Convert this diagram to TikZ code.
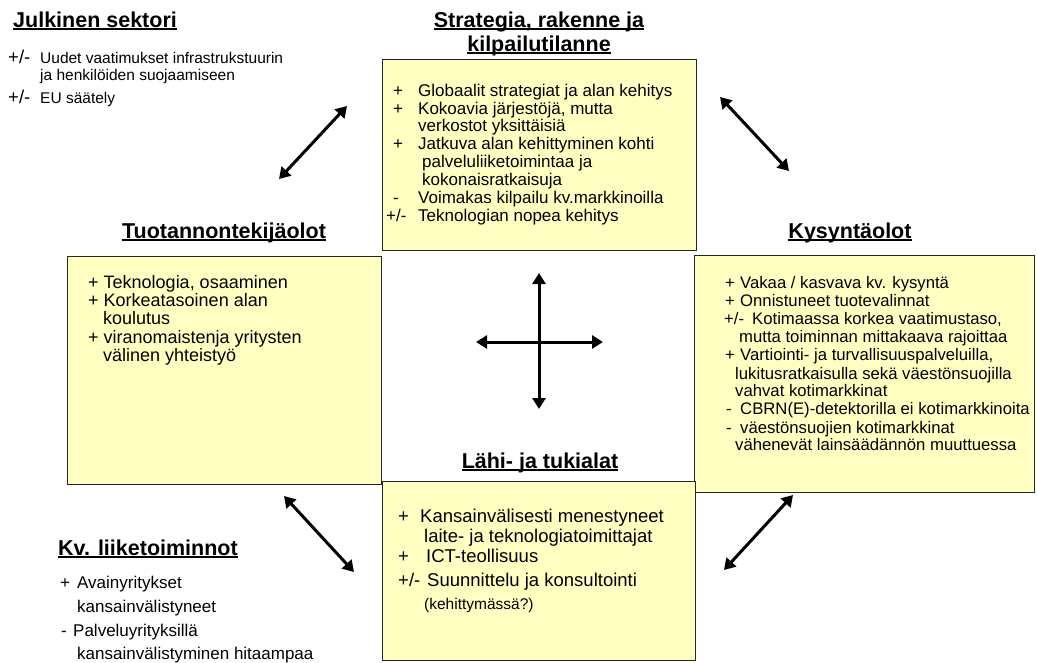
\documentclass[tikz,border=0pt]{standalone}
\usepackage{fontspec}
\setmainfont{Liberation Sans}
\usetikzlibrary{arrows.meta}
\definecolor{boxfill}{RGB}{255,255,194}
% heading underline: a solid bar under the heading text
\newcommand\hdul[1]{\setbox0=\hbox{#1}\rlap{\rule[-2.8pt]{\wd0}{1.7pt}}\box0}
\tikzset{
  panel/.style={draw=black!85, line width=1pt, fill=boxfill, inner sep=0, anchor=north west},
  ttl/.style={font=\fontsize{21.5}{24}\selectfont\bfseries, inner sep=0, anchor=base},
  ttlw/.style={ttl, anchor=base west},
  strattxt/.style={font=\fontsize{17}{20}\selectfont, inner sep=0, anchor=base west},
  facttxt/.style={font=\fontsize{18}{21}\selectfont, inner sep=0, anchor=base west},
  demtxt/.style={font=\fontsize{16.7}{20}\selectfont, inner sep=0, anchor=base west},
  reltxt/.style={font=\fontsize{18.5}{22}\selectfont, inner sep=0, anchor=base west},
  pubtxt/.style={font=\fontsize{15.5}{18}\selectfont, inner sep=0, anchor=base west},
  inttxt/.style={font=\fontsize{17}{20}\selectfont, inner sep=0, anchor=base west},
  notetxt/.style={font=\fontsize{15.5}{18}\selectfont, inner sep=0, anchor=base west},
  pmtxt/.style={font=\fontsize{18.5}{21}\selectfont, inner sep=0, anchor=base west},
  link/.style={line width=3pt, {Triangle[length=11pt,width=13pt]}-{Triangle[length=11pt,width=13pt]}},
}
\begin{document}
\begin{tikzpicture}[x=1pt,y=-1pt]
\useasboundingbox (0,0) rectangle (1037,662);

% the four panels round the central square
\node[panel, minimum width=314, minimum height=228] (fact) at (67,256) {};
\node[panel, minimum width=314, minimum height=191] (strat) at (382,59) {};
\node[panel, minimum width=340, minimum height=237] (dem) at (694,255) {};
\node[panel, minimum width=313, minimum height=179] (rel) at (382,481) {};

% public sector (top left)
\node[ttlw] (pubT) at (13,27) {\hdul{Julkinen sektori}};
\node[pmtxt] (pubP1) at (8,63) {+/-};
\node[pubtxt] (pub1) at (40,63) {Uudet vaatimukset infrastrukstuurin};
\node[pubtxt] (pub2) at (40,80) {ja henkilöiden suojaamiseen};
\node[pmtxt] (pubP2) at (8,103) {+/-};
\node[pubtxt] (pub3) at (40,103) {EU säätely};

% strategy panel
\node[ttl] (stratT1) at (539,27) {\hdul{Strategia, rakenne ja}};
\node[ttl] (stratT2) at (539,51) {\hdul{kilpailutilanne}};
\node[strattxt] (sM1) at (393,96) {+};
\node[strattxt] (s1) at (418,96) {Globaalit strategiat ja alan kehitys};
\node[strattxt] (sM2) at (393,114) {+};
\node[strattxt] (s2) at (418,114) {Kokoavia järjestöjä, mutta};
\node[strattxt] (s3) at (418,131) {verkostot yksittäisiä};
\node[strattxt] (sM4) at (393,149) {+};
\node[strattxt] (s4) at (418,149) {Jatkuva alan kehittyminen kohti};
\node[strattxt] (s5) at (422,167) {palveluliiketoimintaa ja};
\node[strattxt] (s6) at (422,185) {kokonaisratkaisuja};
\node[strattxt] (sM7) at (393,203) {-};
\node[strattxt] (s7) at (418,203) {Voimakas kilpailu kv.markkinoilla};
\node[strattxt] (sM8) at (386,221) {+/-};
\node[strattxt] (s8) at (418,221) {Teknologian nopea kehitys};

% factor conditions panel
\node[ttl] (factT) at (224,238) {\hdul{Tuotannontekijäolot}};
\node[facttxt] (f1) at (88,288) {+ Teknologia, osaaminen};
\node[facttxt] (f2) at (88,306) {+ Korkeatasoinen alan};
\node[facttxt] (f3) at (103,324) {koulutus};
\node[facttxt] (f4) at (88,343) {+ viranomaistenja yritysten};
\node[facttxt] (f5) at (103,361) {välinen yhteistyö};

% demand conditions panel
\node[ttl] (demT) at (850,238) {\hdul{Kysyntäolot}};
\node[demtxt] (dM1) at (725,288) {+};
\node[demtxt] (d1) at (740,288) {Vakaa / kasvava kv. kysyntä};
\node[demtxt] (dM2) at (725,306) {+};
\node[demtxt] (d2) at (740,306) {Onnistuneet tuotevalinnat};
\node[demtxt] (dM3) at (724,324) {+/-};
\node[demtxt] (d3) at (752,324) {Kotimaassa korkea vaatimustaso,};
\node[demtxt] (d4) at (739,342) {mutta toiminnan mittakaava rajoittaa};
\node[demtxt] (dM5) at (725,360) {+};
\node[demtxt] (d5) at (740,360) {Vartiointi- ja turvallisuuspalveluilla,};
\node[demtxt] (d6) at (735,379) {lukitusratkaisulla sekä väestönsuojilla};
\node[demtxt] (d7) at (735,396) {vahvat kotimarkkinat};
\node[demtxt] (dM8) at (726,414) {-};
\node[demtxt] (d8) at (740,414) {CBRN(E)-detektorilla ei kotimarkkinoita};
\node[demtxt] (dM9) at (726,433) {-};
\node[demtxt] (d9) at (740,433) {väestönsuojien kotimarkkinat};
\node[demtxt] (d10) at (735,450) {vähenevät lainsäädännön muuttuessa};

% related and supporting industries panel
\node[ttl] (relT) at (540,468) {\hdul{Lähi- ja tukialat}};
\node[reltxt] (rM1) at (398,522) {+};
\node[reltxt] (r1) at (420,522) {Kansainvälisesti menestyneet};
\node[reltxt] (r2) at (424,542) {laite- ja teknologiatoimittajat};
\node[reltxt] (rM3) at (398,562) {+};
\node[reltxt] (r3) at (426,562) {ICT-teollisuus};
\node[reltxt] (rM4) at (398,586) {+/-};
\node[reltxt] (r4) at (427,586) {Suunnittelu ja konsultointi};
\node[notetxt] (r5) at (424,609) {(kehittymässä?)};

% international business (bottom left)
\node[ttlw] (intT) at (58,555) {\hdul{Kv. liiketoiminnot}};
\node[inttxt] (iM1) at (60,588) {+};
\node[inttxt] (i1) at (77,588) {Avainyritykset};
\node[inttxt] (i2) at (77,612) {kansainvälistyneet};
\node[inttxt] (iM3) at (61,636) {-};
\node[inttxt] (i3) at (73,636) {Palveluyrityksillä};
\node[inttxt] (i4) at (77,659) {kansainvälistyminen hitaampaa};

% arrow end points
\coordinate (ulA) at (279,179);
\coordinate (ulB) at (347,106);
\coordinate (urA) at (720,97);
\coordinate (urB) at (789,171);
\coordinate (llA) at (284,496);
\coordinate (llB) at (354,572);
\coordinate (lrA) at (724,570);
\coordinate (lrB) at (793,495);
\coordinate (cN) at (539,273);
\coordinate (cS) at (539,409);
\coordinate (cW) at (476,342);
\coordinate (cE) at (603,342);

\draw[link] (ulA) -- (ulB);
\draw[link] (urA) -- (urB);
\draw[link] (llA) -- (llB);
\draw[link] (lrA) -- (lrB);
\draw[link] (cN) -- (cS);
\draw[link] (cW) -- (cE);
\end{tikzpicture}
\end{document}
